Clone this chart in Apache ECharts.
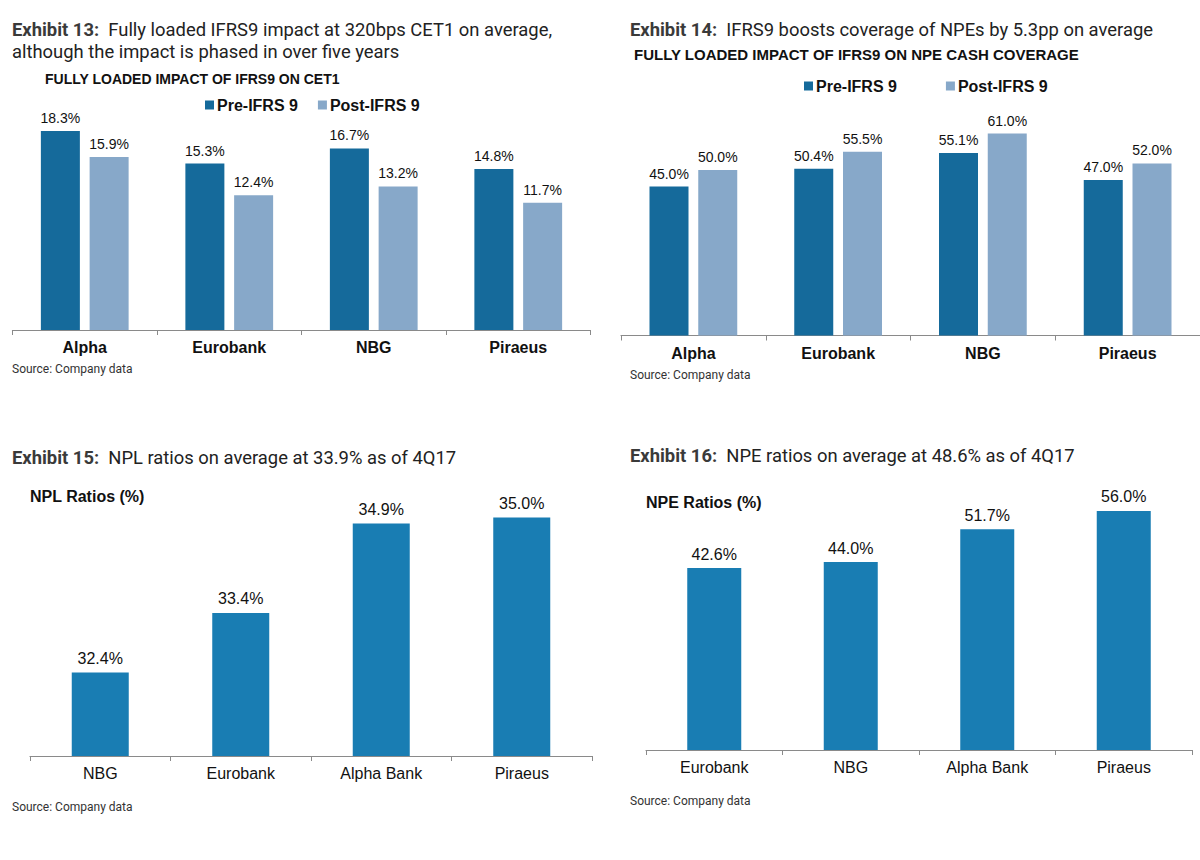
<!DOCTYPE html>
<html>
<head>
<meta charset="utf-8">
<script src="https://cdn.jsdelivr.net/npm/echarts@6/dist/echarts.min.js"></script>
<style>
html,body{margin:0;padding:0;background:#fff;}
#c{width:1200px;height:860px;}
</style>
</head>
<body>
<div id="c"></div>
<script>
// ---- Data ----
const cetCategories = ['Alpha', 'Eurobank', 'NBG', 'Piraeus'];
const cetPre = [18.3, 15.3, 16.7, 14.8];
const cetPost = [15.9, 12.4, 13.2, 11.7];

const covCategories = ['Alpha', 'Eurobank', 'NBG', 'Piraeus'];
const covPre = [45.0, 50.4, 55.1, 47.0];
const covPost = [50.0, 55.5, 61.0, 52.0];

const nplCategories = ['NBG', 'Eurobank', 'Alpha Bank', 'Piraeus'];
const nplValues = [32.4, 33.4, 34.9, 35.0];

const npeCategories = ['Eurobank', 'NBG', 'Alpha Bank', 'Piraeus'];
const npeValues = [42.6, 44.0, 51.7, 56.0];

const seriesNames = ['Pre-IFRS 9', 'Post-IFRS 9'];

// ---- Styles ----
const PRE = '#156a9b';
const POST = '#87a8c9';
const SINGLE = '#197db3';
const AXIS = '#8a8a8a';
const CHART_FONT = '"Liberation Sans", Arial, sans-serif';
const TITLE_FONT = 'Roboto, sans-serif';

const chart = echarts.init(document.getElementById('c'), null, {renderer: 'svg'});

function titleBlock(text, left, top) {
  return {
    text: text, left: left, top: top, padding: 0,
    textStyle: {
      fontFamily: TITLE_FONT, fontSize: 18.4, fontWeight: 'normal', color: '#222', lineHeight: 22,
      rich: {
        b: {fontFamily: TITLE_FONT, fontSize: 18.4, fontWeight: 'bold', color: '#3a3a3a', lineHeight: 22}
      }
    }
  };
}
function subTitle(text, left, top, size) {
  return {
    text: text, left: left, top: top, padding: 0,
    textStyle: {fontFamily: CHART_FONT, fontSize: size, fontWeight: 'bold', color: '#111'}
  };
}
function source(left, top) {
  return {
    text: 'Source: Company data', left: left, top: top, padding: 0,
    textStyle: {fontFamily: TITLE_FONT, fontSize: 12, fontWeight: 'normal', color: '#333'}
  };
}

function catAxis(idx, data, bold, margin) {
  return {
    type: 'category', gridIndex: idx, data: data,
    axisLine: {show: true, lineStyle: {color: AXIS, width: 1.2}},
    axisTick: {show: true, length: 5, lineStyle: {color: AXIS}, alignWithLabel: false},
    axisLabel: {
      color: '#111', fontFamily: CHART_FONT, fontSize: 16,
      fontWeight: bold ? 'bold' : 'normal', margin: margin, interval: 0
    },
    splitLine: {show: false}
  };
}
function valAxis(idx, min, max) {
  return {
    type: 'value', gridIndex: idx, min: min, max: max, show: false,
    splitLine: {show: false}
  };
}
function barLabel(size) {
  return {
    show: true, position: 'top', distance: 6,
    fontFamily: CHART_FONT, fontSize: size, color: '#111',
    formatter: p => p.value.toFixed(1) + '%'
  };
}

const option = {
  animation: false,
  backgroundColor: '#fff',
  title: [
    titleBlock('{b|Exhibit 13:}  Fully loaded IFRS9 impact at 320bps CET1 on average,\nalthough the impact is phased in over five years', 12, 18),
    subTitle('FULLY LOADED IMPACT OF IFRS9 ON CET1', 45, 72, 14),
    source(12, 363),
    titleBlock('{b|Exhibit 14:}  IFRS9 boosts coverage of NPEs by 5.3pp on average', 630, 18),
    subTitle('FULLY LOADED IMPACT OF IFRS9 ON NPE CASH COVERAGE', 634, 47, 15),
    source(630, 369),
    titleBlock('{b|Exhibit 15:}  NPL ratios on average at 33.9% as of 4Q17', 12, 446),
    subTitle('NPL Ratios (%)', 30, 488, 16),
    source(12, 801),
    titleBlock('{b|Exhibit 16:}  NPE ratios on average at 48.6% as of 4Q17', 630, 444),
    subTitle('NPE Ratios (%)', 646, 494, 16),
    source(630, 795)
  ],
  legend: [
    {
      data: seriesNames, left: 205, top: 97, padding: 0, itemGap: 20,
      icon: 'rect', itemWidth: 9, itemHeight: 9,
      textStyle: {fontFamily: CHART_FONT, fontSize: 16, fontWeight: 'bold', color: '#111', padding: [0, 0, 0, -2]}
    },
    {
      data: seriesNames, left: 804, top: 78, padding: 0, itemGap: 49,
      icon: 'rect', itemWidth: 9, itemHeight: 9,
      textStyle: {fontFamily: CHART_FONT, fontSize: 16, fontWeight: 'bold', color: '#111', padding: [0, 0, 0, -2]}
    }
  ],
  grid: [
    {left: 12.5, width: 578, top: 112.5, height: 217.5},
    {left: 621, width: 587, top: 103.8, height: 231.7},
    {left: 30, width: 562, top: 458, height: 298},
    {left: 646, width: 546, top: 493.8, height: 256.2}
  ],
  xAxis: [
    catAxis(0, cetCategories, true, 9),
    catAxis(1, covCategories, true, 10),
    catAxis(2, nplCategories, false, 9),
    catAxis(3, npeCategories, false, 9)
  ],
  yAxis: [
    valAxis(0, 0, 20),
    valAxis(1, 0, 70),
    valAxis(2, 31, 36),
    valAxis(3, 0, 60)
  ],
  series: [
    {name: seriesNames[0], type: 'bar', xAxisIndex: 0, yAxisIndex: 0, data: cetPre,
     barWidth: 39, barGap: '25%', itemStyle: {color: PRE}, label: barLabel(14)},
    {name: seriesNames[1], type: 'bar', xAxisIndex: 0, yAxisIndex: 0, data: cetPost,
     barWidth: 39, barGap: '25%', itemStyle: {color: POST}, label: barLabel(14)},
    {name: seriesNames[0], type: 'bar', xAxisIndex: 1, yAxisIndex: 1, data: covPre,
     barWidth: 39, barGap: '25%', itemStyle: {color: PRE}, label: barLabel(14)},
    {name: seriesNames[1], type: 'bar', xAxisIndex: 1, yAxisIndex: 1, data: covPost,
     barWidth: 39, barGap: '25%', itemStyle: {color: POST}, label: barLabel(14)},
    {name: 'NPL Ratios', type: 'bar', xAxisIndex: 2, yAxisIndex: 2, data: nplValues,
     barWidth: 57, itemStyle: {color: SINGLE}, label: barLabel(16)},
    {name: 'NPE Ratios', type: 'bar', xAxisIndex: 3, yAxisIndex: 3, data: npeValues,
     barWidth: 54, itemStyle: {color: SINGLE}, label: barLabel(16)}
  ]
};
chart.setOption(option);
</script>
</body>
</html>
